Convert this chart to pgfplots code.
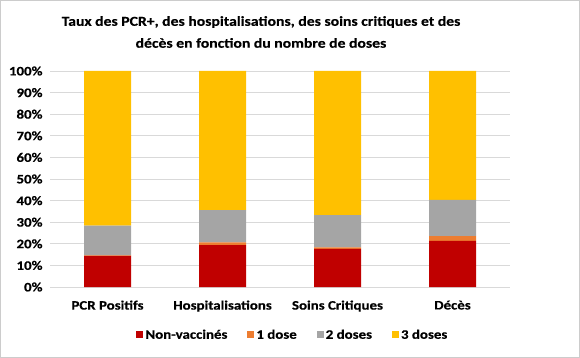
\documentclass[border=0pt]{standalone}
\usepackage{pgfplots}
\pgfplotsset{compat=1.18}
\usepackage{fontspec}
\setmainfont{Carlito}[FakeStretch=1.15, BoldFeatures={FakeBold=0.4}]
\definecolor{cRed}{HTML}{C00000}
\definecolor{cOrange}{HTML}{ED7D31}
\definecolor{cGray}{HTML}{A5A5A5}
\definecolor{cGold}{HTML}{FFC000}
\definecolor{cGrid}{HTML}{D9D9D9}
\begin{document}
\begin{tikzpicture}
\path[use as bounding box, draw=gray!40, line width=1.5bp] (-49.25bp,-70.25bp) rectangle (529.25bp,286.25bp);
\begin{axis}[
  at={(0,0)}, anchor=south west,
  scale only axis, width=460bp, height=216bp,
  ybar stacked, bar width=47bp,
  xmin=-0.5, xmax=3.5, ymin=0, ymax=100,
  xtick={0,1,2,3},
  xticklabels={PCR Positifs, Hospitalisations, Soins Critiques, Décès},
  ytick={0,10,...,100},
  yticklabels={0\%,10\%,20\%,30\%,40\%,50\%,60\%,70\%,80\%,90\%,100\%},
  ymajorgrids, grid style={cGrid, line width=0.8bp},
  axis x line*=bottom, axis y line*=left,
  x axis line style={cGrid, line width=0.8bp, -},
  y axis line style={draw=none},
  major tick length=0pt,
  tick label style={font=\bfseries\fontsize{13}{15}\selectfont},
  yticklabel style={xshift=-4bp},
  xticklabel style={yshift=-10bp},
  legend style={at={(0.528,-0.222)}, anchor=center, draw=none, legend columns=4,
    font=\bfseries\fontsize{13}{15}\selectfont,
    /tikz/every even column/.append style={column sep=18bp}},
  legend image code/.code={\fill[#1] (0bp,-3.5bp) rectangle (7bp,3.5bp);},
]
\addplot[fill=cRed, draw=none] coordinates {(0,14.4) (1,19.4) (2,17.7) (3,21.3)};
\addplot[fill=cOrange, draw=none] coordinates {(0,0.2) (1,1.3) (2,0.7) (3,2.3)};
\addplot[fill=cGray, draw=none] coordinates {(0,13.8) (1,14.9) (2,14.9) (3,16.7)};
\addplot[fill=cGold, draw=none] coordinates {(0,71.6) (1,64.4) (2,66.7) (3,59.7)};
\legend{Non-vaccinés, 1 dose, 2 doses, 3 doses}
\end{axis}
\node[align=center, font=\bfseries\fontsize{13.7}{22}\selectfont] at (211bp,255bp)
  {Taux des PCR+, des hospitalisations, des soins critiques et des\\décès en fonction du nombre de doses};
\end{tikzpicture}
\end{document}
